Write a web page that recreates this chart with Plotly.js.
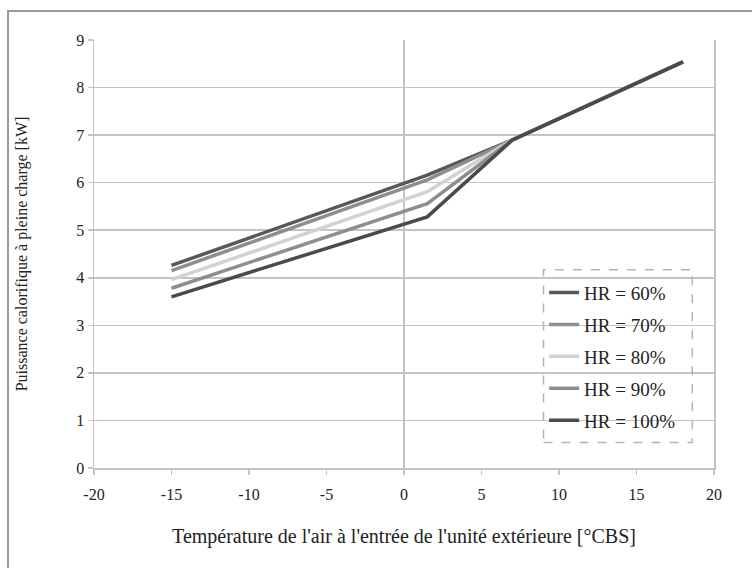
<!DOCTYPE html>
<html><head><meta charset="utf-8">
<script src="https://cdn.plot.ly/plotly-3.0.1.min.js"></script>
<style>
html,body{margin:0;padding:0;background:#fff;overflow:hidden}
#frame{position:absolute;left:7px;top:10px;width:800px;height:600px;border-left:2px solid #9a9a9a;border-top:2px solid #9a9a9a;pointer-events:none;z-index:5}
#chart{position:absolute;left:0;top:0;width:752px;height:568px}
</style></head>
<body>
<div id="chart"></div>
<div id="frame"></div>
<script>
// Data
const temperatures = [-15, 1.5, 7, 18];
const seriesNames = ["HR = 60%", "HR = 70%", "HR = 80%", "HR = 90%", "HR = 100%"];
const hr60  = [4.26, 6.16, 6.90, 8.54];
const hr70  = [4.15, 6.06, 6.90, 8.54];
const hr80  = [3.96, 5.81, 6.90, 8.54];
const hr90  = [3.78, 5.56, 6.90, 8.54];
const hr100 = [3.60, 5.28, 6.90, 8.54];
const xTicks = [-20, -15, -10, -5, 0, 5, 10, 15, 20];
const yTicks = [0, 1, 2, 3, 4, 5, 6, 7, 8, 9];

const seriesValues = [hr60, hr70, hr80, hr90, hr100];
const colors = ["#585858", "#8e8e8e", "#d2d2d2", "#8e8e8e", "#4a4a4a"];
const serif = "'Liberation Serif', 'DejaVu Serif', serif";

const traces = seriesValues.map((vals, i) => ({
  x: temperatures, y: vals, type: "scatter", mode: "lines",
  name: seriesNames[i], legendgroup: "g" + i,
  line: {color: colors[i], width: 3.5}
}));

const layout = {
  width: 752, height: 568,
  margin: {l: 93.5, r: 38.3, t: 40, b: 99.5},
  paper_bgcolor: "#fff", plot_bgcolor: "#fff",
  font: {family: serif, size: 16, color: "#222"},
  showlegend: true,
  legend: {
    x: 0.726, y: 0.454, xanchor: "left", yanchor: "top",
    bgcolor: "rgba(0,0,0,0)", borderwidth: 0,
    font: {family: serif, size: 19, color: "#222"},
    tracegroupgap: 4.2, itemwidth: 30
  },
  xaxis: {
    range: [-20, 20], tickvals: xTicks, ticktext: xTicks.map(String),
    showgrid: false, zeroline: true, zerolinecolor: "#c4c4c4", zerolinewidth: 1.5,
    showline: true, linecolor: "#c4c4c4", linewidth: 1.5,
    ticks: "outside", ticklen: 5, tickcolor: "#c4c4c4", tickwidth: 1.5,
    ticklabelstandoff: 6,
    tickfont: {family: serif, size: 16, color: "#222"},
    title: {text: "Température de l'air à l'entrée de l'unité extérieure [°CBS]",
            font: {family: serif, size: 20, color: "#222"}, standoff: 27},
    fixedrange: true
  },
  yaxis: {
    range: [0, 9], tickvals: yTicks, ticktext: yTicks.map(String),
    showgrid: true, gridcolor: "#c4c4c4", gridwidth: 1.5,
    zeroline: false,
    showline: true, mirror: true, linecolor: "#c4c4c4", linewidth: 1.5,
    ticks: "outside", ticklen: 5, tickcolor: "#c4c4c4", tickwidth: 1.5,
    tickfont: {family: serif, size: 16, color: "#222"},
    title: {text: "Puissance calorifique à pleine charge [kW]",
            font: {family: serif, size: 16, color: "#222"}, standoff: 44},
    fixedrange: true
  },
  shapes: [{
    type: "rect", xref: "paper", yref: "paper",
    x0: 0.725, x1: 0.965, y0: 0.0595, y1: 0.463,
    line: {color: "#b4b4b4", width: 1.5, dash: "dash"}, fillcolor: "rgba(0,0,0,0)"
  }]
};

Plotly.newPlot("chart", traces, layout, {displayModeBar: false, staticPlot: true});
</script>
</body></html>
